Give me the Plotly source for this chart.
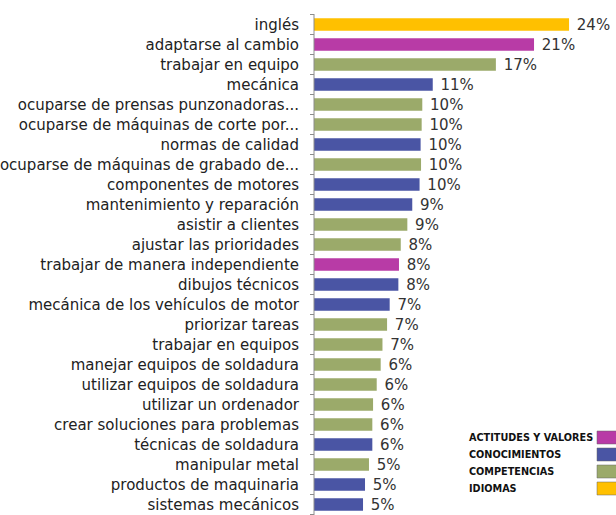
import plotly.graph_objects as go

categories = [
    "inglés", "adaptarse al cambio", "trabajar en equipo", "mecánica",
    "ocuparse de prensas punzonadoras...", "ocuparse de máquinas de corte por...",
    "normas de calidad", "ocuparse de máquinas de grabado de...",
    "componentes de motores", "mantenimiento y reparación", "asistir a clientes",
    "ajustar las prioridades", "trabajar de manera independiente", "dibujos técnicos",
    "mecánica de los vehículos de motor", "priorizar tareas", "trabajar en equipos",
    "manejar equipos de soldadura", "utilizar equipos de soldadura",
    "utilizar un ordenador", "crear soluciones para problemas",
    "técnicas de soldadura", "manipular metal", "productos de maquinaria",
    "sistemas mecánicos",
]
values = [
    24.4, 21.05, 17.4, 11.36, 10.36, 10.3, 10.2, 10.24, 10.1, 9.4, 8.93, 8.3,
    8.13, 8.07, 7.24, 6.99, 6.55, 6.38, 6.0, 5.65, 5.58, 5.58, 5.26, 4.88, 4.69,
]
groups = [
    "IDIOMAS", "ACTITUDES Y VALORES", "COMPETENCIAS", "CONOCIMIENTOS",
    "COMPETENCIAS", "COMPETENCIAS", "CONOCIMIENTOS", "COMPETENCIAS",
    "CONOCIMIENTOS", "CONOCIMIENTOS", "COMPETENCIAS", "COMPETENCIAS",
    "ACTITUDES Y VALORES", "CONOCIMIENTOS", "CONOCIMIENTOS", "COMPETENCIAS",
    "COMPETENCIAS", "COMPETENCIAS", "COMPETENCIAS", "COMPETENCIAS",
    "COMPETENCIAS", "CONOCIMIENTOS", "COMPETENCIAS", "CONOCIMIENTOS",
    "CONOCIMIENTOS",
]
legend_names = ["ACTITUDES Y VALORES", "CONOCIMIENTOS", "COMPETENCIAS", "IDIOMAS"]
group_colors = {
    "ACTITUDES Y VALORES": "#B83BA6",
    "CONOCIMIENTOS": "#4A55A4",
    "COMPETENCIAS": "#9BAA6A",
    "IDIOMAS": "#FFC000",
}

W, H = 616, 515
L, R, T, B = 314, 2, 14, 0
pw, ph = W - L - R, H - T - B
AXIS_COLOR = "#8c8c8c"

fig = go.Figure()
fig.add_trace(go.Bar(
    x=values, y=categories, orientation="h",
    marker=dict(color=[group_colors[g] for g in groups], line=dict(width=0)),
    texttemplate=" %{x:.0f}%", textposition="outside", constraintext="none",
    textfont=dict(family="DejaVu Sans", size=15, color="#333333"),
    cliponaxis=False, showlegend=False, width=0.62,
))

def px_x(p):
    return (p - L) / pw

def px_y(p):
    return (H - B - p) / ph

shapes = []
annotations = []

# axis line and boundary ticks
shapes.append(dict(type="line", xref="paper", yref="paper",
                   x0=0, x1=0, y0=0, y1=1, layer="above",
                   line=dict(color=AXIS_COLOR, width=1)))
for k in range(len(categories) + 1):
    shapes.append(dict(type="line", xref="paper", yref="y",
                       x0=px_x(310), x1=0, y0=k - 0.5, y1=k - 0.5, layer="above",
                       line=dict(color=AXIS_COLOR, width=1)))

text_y = [437, 454, 471, 488]
for name, ty in zip(legend_names, text_y):
    annotations.append(dict(
        xref="paper", yref="paper", x=px_x(467), y=px_y(ty),
        xanchor="left", yanchor="middle", showarrow=False, text=name,
        font=dict(family="DejaVu Sans", size=9.7, color="#111111", weight="bold"),
    ))
    shapes.append(dict(
        type="rect", xref="paper", yref="paper",
        x0=px_x(597), x1=px_x(617), y0=px_y(ty + 7), y1=px_y(ty - 6),
        fillcolor=group_colors[name], line=dict(color="#666666", width=0.5),
    ))

fig.update_layout(
    width=W, height=H,
    margin=dict(l=L, r=R, t=T, b=B),
    paper_bgcolor="white", plot_bgcolor="white",
    xaxis=dict(range=[0, 28.7], showticklabels=False, showgrid=False,
               zeroline=False, showline=False, ticks="", fixedrange=True),
    yaxis=dict(
        categoryorder="array", categoryarray=categories, autorange="reversed",
        showline=False, ticks="", ticklabelstandoff=14,
        tickfont=dict(family="DejaVu Sans", size=15, color="#222222"),
        showgrid=False, automargin=False, fixedrange=True,
    ),
    shapes=shapes, annotations=annotations,
    font=dict(family="DejaVu Sans"),
)

fig.write_html("out.html", config={"displayModeBar": False},
               post_script="document.body.style.margin='0';")
